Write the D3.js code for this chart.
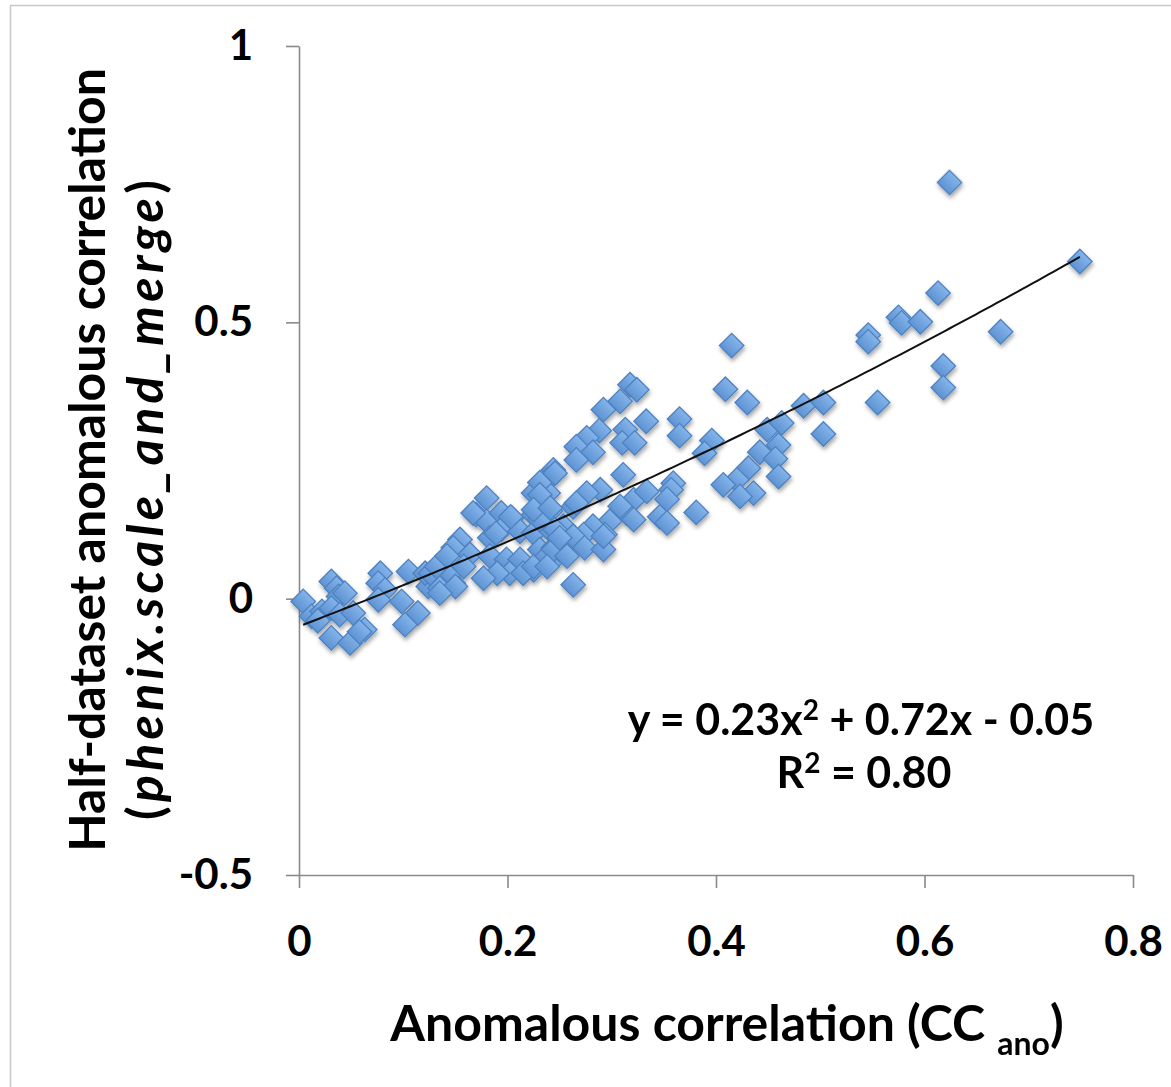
<!doctype html>
<html lang="en">
<head>
  <meta charset="utf-8">
  <style>
    body { margin: 0; background: #fff; }
    svg text { font-family: Lato, "Open Sans", sans-serif; font-weight: bold; fill: #000; }
  </style>
</head>
<body>
  <script src="https://cdnjs.cloudflare.com/ajax/libs/d3/7.8.5/d3.min.js"></script>
  <div id="chart"></div>
  <script>
    // values: [CC ano, half-dataset CC]
    var ptsUpper = [
      [0.624,0.753],[0.749,0.610],[0.613,0.553],[0.575,0.509],[0.578,0.499],[0.596,0.501],
      [0.546,0.477],[0.546,0.465],[0.673,0.483],[0.618,0.421],[0.618,0.382],[0.555,0.355]
    ];
    var ptsRight = [
      [0.415,0.458],[0.409,0.379],[0.430,0.355],[0.365,0.325],[0.365,0.295],[0.484,0.349],
      [0.503,0.355],[0.503,0.298],[0.396,0.286],[0.389,0.263],[0.449,0.306],[0.463,0.318],
      [0.460,0.278],[0.442,0.265],[0.457,0.253],[0.460,0.221],[0.431,0.236],[0.420,0.215],
      [0.407,0.206],[0.436,0.191],[0.423,0.185],[0.381,0.156],[0.359,0.209],[0.357,0.197],
      [0.353,0.180],[0.346,0.148],[0.353,0.137]
    ];
    var ptsMiddle = [
      [0.3175,0.387],[0.324,0.378],[0.308,0.357],[0.292,0.342],[0.333,0.321],[0.288,0.304],
      [0.276,0.291],[0.313,0.306],[0.310,0.282],[0.322,0.282],[0.266,0.275],[0.282,0.265],
      [0.266,0.251],[0.244,0.233],[0.238,0.215],[0.239,0.191],[0.311,0.224],[0.321,0.179],
      [0.3335,0.194],[0.314,0.155],[0.321,0.143],[0.308,0.167],[0.289,0.197],[0.276,0.191],
      [0.266,0.173],[0.298,0.140],[0.2935,0.116],[0.282,0.131],[0.273,0.116],[0.263,0.113],
      [0.244,0.089],[0.274,0.092],[0.292,0.089],[0.257,0.077],[0.238,0.058],[0.263,0.025],
      [0.231,0.210],[0.2456,0.227],[0.231,0.188],[0.225,0.161],[0.241,0.164],[0.250,0.110],
      [0.292,0.113]
    ];
    var ptsLeftMid = [
      [0.225,0.191],[0.180,0.182],[0.170,0.152],[0.180,0.140],[0.194,0.155],[0.204,0.146],
      [0.225,0.152],[0.241,0.158],[0.194,0.125],[0.183,0.110],[0.212,0.122],[0.225,0.119],
      [0.242,0.122],[0.2535,0.131],[0.1544,0.107],[0.148,0.092],[0.164,0.080],[0.183,0.077],
      [0.199,0.071],[0.212,0.071],[0.231,0.089],[0.244,0.092],[0.244,0.071],[0.225,0.052],
      [0.202,0.046],[0.190,0.046],[0.177,0.037],[0.148,0.028],[0.145,0.046],[0.126,0.046],
      [0.135,0.019],[0.158,0.058],[0.132,0.058],[0.142,0.077],[0.150,0.022],[0.135,0.010],
      [0.231,0.143],[0.2455,0.125],[0.263,0.166],[0.250,0.089],[0.215,0.046],[0.225,0.058],
      [0.238,0.077],[0.167,0.155],[0.203,0.148],[0.189,0.118]
    ];
    var ptsLeft = [
      [0.004,-0.005],[0.012,-0.032],[0.022,-0.023],[0.031,0.031],[0.036,0.019],[0.038,0.004],
      [0.044,0.010],[0.031,-0.017],[0.039,-0.029],[0.052,-0.026],[0.031,-0.071],[0.049,-0.080],
      [0.063,-0.056],[0.078,0.046],[0.076,0.028],[0.0825,0.016],[0.076,-0.002],[0.105,0.049],
      [0.0985,-0.005],[0.114,-0.026],[0.1017,-0.047],[0.124,0.022],[0.121,0.046],[0.018,-0.040],
      [0.058,-0.060]
    ];
    var points = ptsLeft.concat(ptsLeftMid, ptsMiddle, ptsRight, ptsUpper);

    // trendline as printed on the chart: y = 0.23x^2 + 0.72x - 0.05
    var trendCoef = [0.23, 0.72, -0.05];
    var trendRange = [0.004, 0.749];
    var xTicks = [0, 0.2, 0.4, 0.6, 0.8];
    var yTicks = [-0.5, 0, 0.5, 1];

    var width = 1171, height = 1087;
    var svg = d3.select("#chart").append("svg")
      .attr("width", width).attr("height", height);

    var defs = svg.append("defs");
    var grad = defs.append("linearGradient").attr("id", "mk")
      .attr("x1", 0).attr("y1", 0).attr("x2", 0).attr("y2", 1);
    grad.append("stop").attr("offset", "0%").attr("stop-color", "#84b4ea");
    grad.append("stop").attr("offset", "100%").attr("stop-color", "#5e93d3");
    var sh = defs.append("filter").attr("id", "shadow")
      .attr("x", "-50%").attr("y", "-50%").attr("width", "200%").attr("height", "200%");
    sh.append("feDropShadow").attr("dx", 1).attr("dy", 3).attr("stdDeviation", 2)
      .attr("flood-color", "#000").attr("flood-opacity", 0.35);

    // outer frame
    svg.append("rect").attr("x", 10.5).attr("y", 5.5)
      .attr("width", 1200).attr("height", 1200)
      .attr("fill", "none").attr("stroke", "#c8c8c8").attr("stroke-width", 1.5);

    var x = d3.scaleLinear().domain([0, 0.8]).range([299, 1133]);
    var y = d3.scaleLinear().domain([-0.5, 1]).range([875, 46]);

    var axisColor = "#8a8a8a";
    var gx = svg.append("g").attr("transform", "translate(0," + y(-0.5) + ")")
      .call(d3.axisBottom(x).tickValues(xTicks).tickFormat(function(d) { return String(d); })
        .tickSize(13).tickSizeOuter(0).tickPadding(53));
    var gy = svg.append("g").attr("transform", "translate(" + x(0) + ",0)")
      .call(d3.axisLeft(y).tickValues(yTicks).tickFormat(function(d) { return String(d); })
        .tickSize(13).tickSizeOuter(0).tickPadding(33));
    [gx, gy].forEach(function(g) {
      g.select(".domain").attr("stroke", axisColor).attr("stroke-width", 1.6);
      g.selectAll(".tick line").attr("stroke", axisColor).attr("stroke-width", 1.6);
      g.selectAll(".tick text").attr("font-size", 42).attr("font-family", "Lato, sans-serif")
        .attr("font-weight", "bold").attr("fill", "#000");
    });
    gx.selectAll(".tick text").attr("dy", "0.35em");

    // markers
    var sym = d3.symbol().type(d3.symbolSquare).size(300);
    svg.append("g").attr("filter", "url(#shadow)")
      .selectAll("path").data(points).enter().append("path")
      .attr("d", sym)
      .attr("transform", function(d) { return "translate(" + x(d[0]) + "," + y(d[1]) + ") rotate(45)"; })
      .attr("fill", "url(#mk)")
      .attr("stroke", "#4f82c0")
      .attr("stroke-width", 1.3);

    // trendline
    var trendX = d3.range(trendRange[0], trendRange[1], 0.005).concat([trendRange[1]]);
    var line = d3.line()
      .x(function(v) { return x(v); })
      .y(function(v) { return y(trendCoef[0] * v * v + trendCoef[1] * v + trendCoef[2]); });
    svg.append("path").datum(trendX).attr("d", line)
      .attr("fill", "none").attr("stroke", "#111").attr("stroke-width", 2);

    // equation
    var eq = svg.append("text").attr("x", 861).attr("y", 735)
      .attr("text-anchor", "middle").attr("font-size", 43);
    eq.append("tspan").text("y = 0.23x");
    eq.append("tspan").attr("font-size", 28).attr("dy", -15).text("2");
    eq.append("tspan").attr("dy", 15).text(" + 0.72x - 0.05");
    var r2 = svg.append("text").attr("x", 864).attr("y", 788)
      .attr("text-anchor", "middle").attr("font-size", 43);
    r2.append("tspan").text("R");
    r2.append("tspan").attr("font-size", 28).attr("dy", -15).text("2");
    r2.append("tspan").attr("dy", 15).text(" = 0.80");

    // x title
    var xt = svg.append("text").attr("x", 727).attr("y", 1041)
      .attr("text-anchor", "middle").attr("font-size", 50);
    xt.append("tspan").text("Anomalous correlation (CC ");
    xt.append("tspan").attr("font-size", 32).attr("dy", 14).text("ano");
    xt.append("tspan").attr("dy", -14).text(")");

    // y title, two lines
    svg.append("text").attr("transform", "translate(105,460) rotate(-90)")
      .attr("text-anchor", "middle").attr("font-size", 50)
      .text("Half-dataset anomalous correlation");
    var yt2 = svg.append("text").attr("transform", "translate(163,500) rotate(-90)")
      .attr("text-anchor", "middle").attr("font-size", 50)
      .attr("textLength", 640).attr("lengthAdjust", "spacing");
    yt2.append("tspan").text("(");
    yt2.append("tspan").attr("font-style", "italic").text("phenix.scale_and_merge");
    yt2.append("tspan").text(")");
  </script>
</body>
</html>
